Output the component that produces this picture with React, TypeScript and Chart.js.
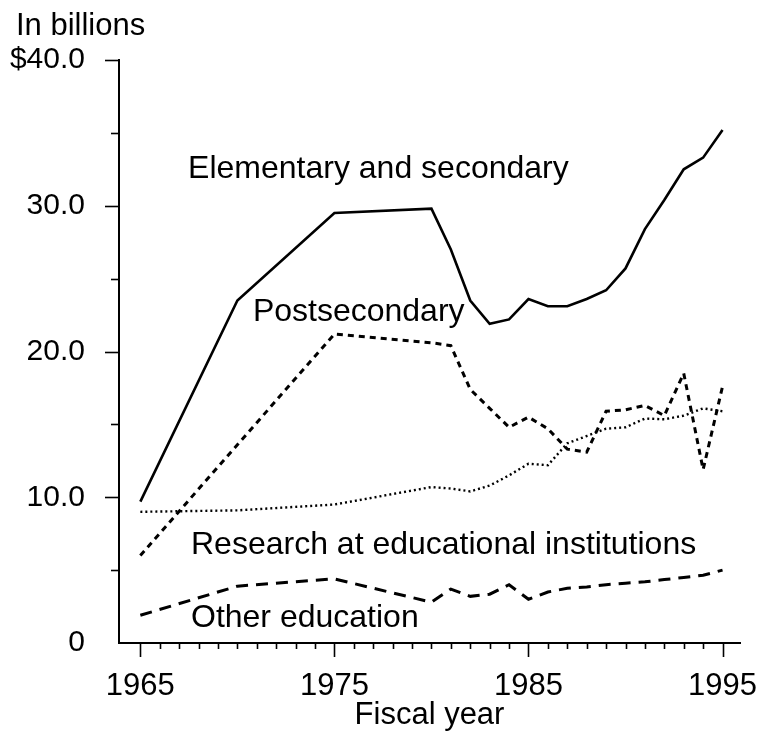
import React, { useEffect, useRef } from "react";
import { Chart, registerables } from "chart.js";

Chart.register(...registerables);

const FONT = "'Liberation Sans', Arial, Helvetica, sans-serif";

// ---- data (billions of dollars, fiscal years) ----
const years = [1965, 1970, 1975, 1980, 1981, 1982, 1983, 1984, 1985, 1986, 1987, 1988, 1989, 1990, 1991, 1992, 1993, 1994, 1995];
const elementaryAndSecondary = [9.7, 23.5, 29.5, 29.8, 27.0, 23.5, 21.9, 22.2, 23.6, 23.1, 23.1, 23.6, 24.2, 25.7, 28.4, 30.4, 32.5, 33.3, 35.2];
const postsecondary = [6.0, 13.6, 21.2, 20.6, 20.4, 17.4, 16.1, 14.8, 15.5, 14.7, 13.3, 13.1, 15.9, 16.0, 16.3, 15.6, 18.5, 11.9, 17.6];
const research = [9.0, 9.1, 9.5, 10.7, 10.6, 10.4, 10.8, 11.5, 12.3, 12.2, 13.7, 14.2, 14.7, 14.8, 15.4, 15.35, 15.6, 16.1, 15.9];
const otherEducation = [1.9, 3.9, 4.4, 2.8, 3.7, 3.2, 3.35, 4.0, 3.0, 3.5, 3.75, 3.85, 4.0, 4.1, 4.2, 4.35, 4.5, 4.65, 5.0];

// ---- ticks ----
const xMajorTicks = [1965, 1975, 1985, 1995];
const yMajorTicks = [0, 10, 20, 30, 40];
const yTickLabels = ["0", "10.0", "20.0", "30.0", "$40.0"];
const yMinorTicks = [0, 5, 10, 15, 20, 25, 30, 35, 40];
const xAllTicks: number[] = [];
for (let yr = 1965; yr <= 1995; yr++) xAllTicks.push(yr);

const seriesNames = ["Elementary and secondary", "Postsecondary", "Research at educational institutions", "Other education"];

const toPoints = (vals: number[]) => years.map((yr, i) => ({ x: yr, y: vals[i] }));

const tickMarksPlugin = {
  id: "tickMarks",
  afterDraw(chart: any) {
    const { ctx, chartArea, scales } = chart;
    const xs = scales.x;
    const ys = scales.y;
    ctx.save();
    ctx.strokeStyle = "#000";
    ctx.lineWidth = 1.6;
    xs.ticks.forEach((t: any) => {
      const px = Math.round(xs.getPixelForValue(t.value)) + 0.5;
      const len = xMajorTicks.includes(t.value) ? 14 : 6;
      ctx.beginPath();
      ctx.moveTo(px, chartArea.bottom);
      ctx.lineTo(px, chartArea.bottom + len);
      ctx.stroke();
    });
    ys.ticks.forEach((t: any) => {
      if (t.value === 0) return;
      const py = Math.round(ys.getPixelForValue(t.value)) + 0.5;
      const len = yMajorTicks.includes(t.value) ? 14 : 8;
      ctx.beginPath();
      ctx.moveTo(chartArea.left, py);
      ctx.lineTo(chartArea.left - len, py);
      ctx.stroke();
    });
    ctx.restore();
  },
};

// label anchors in data units (left edge / baseline)
const labelAnchors = [
  { x: 1967.46, y: 31.9 },
  { x: 1970.8, y: 22.09 },
  { x: 1967.61, y: 6.11 },
  { x: 1967.61, y: 1.1 },
];

const textPlugin = {
  id: "seriesText",
  afterDraw(chart: any) {
    const { ctx, scales } = chart;
    ctx.save();
    ctx.fillStyle = "#000";
    ctx.font = `32px ${FONT}`;
    ctx.textAlign = "left";
    ctx.textBaseline = "alphabetic";
    chart.data.datasets.forEach((ds: any, i: number) => {
      const a = labelAnchors[i];
      ctx.fillText(ds.label, scales.x.getPixelForValue(a.x), scales.y.getPixelForValue(a.y));
    });
    ctx.font = `31px ${FONT}`;
    ctx.fillText("In billions", 16, 35);
    ctx.restore();
  },
};

export default function App() {
  const ref = useRef<HTMLCanvasElement>(null);

  useEffect(() => {
    if (!ref.current) return;
    const common = { borderColor: "#000", pointRadius: 0, fill: false, tension: 0 };
    const chart = new Chart(ref.current, {
      type: "line",
      data: {
        datasets: [
          { ...common, label: seriesNames[0], data: toPoints(elementaryAndSecondary), borderWidth: 2.6 },
          { ...common, label: seriesNames[1], data: toPoints(postsecondary), borderWidth: 3, borderDash: [6, 5] },
          { ...common, label: seriesNames[2], data: toPoints(research), borderWidth: 2.4, borderDash: [2, 3] },
          { ...common, label: seriesNames[3], data: toPoints(otherEducation), borderWidth: 3, borderDash: [12, 8] },
        ],
      },
      options: {
        animation: false,
        responsive: false,
        maintainAspectRatio: false,
        devicePixelRatio: 1,
        layout: { padding: { top: 60, right: 17, left: 0, bottom: 0 } },
        plugins: { legend: { display: false }, tooltip: { enabled: false }, title: { display: false } },
        scales: {
          x: {
            type: "linear",
            min: 1963.9,
            max: 1995.9,
            afterBuildTicks: (s: any) => {
              s.ticks = xAllTicks.map((v) => ({ value: v }));
            },
            afterFit: (s: any) => {
              s.height = 91;
              s.paddingLeft = 0;
              s.paddingRight = 0;
            },
            ticks: {
              autoSkip: false,
              maxRotation: 0,
              minRotation: 0,
              padding: 25,
              color: "#000",
              font: { size: 31, family: FONT },
              callback: (v: any) => (xMajorTicks.includes(Number(v)) ? String(v) : ""),
            },
            grid: { display: false, drawTicks: false, drawOnChartArea: false },
            border: { display: true, color: "#000", width: 2 },
            title: {
              display: true,
              text: "Fiscal year",
              color: "#000",
              font: { size: 31, family: FONT },
              padding: { top: 0, bottom: 0 },
            },
          },
          y: {
            type: "linear",
            min: 0,
            max: 40,
            afterBuildTicks: (s: any) => {
              s.ticks = yMinorTicks.map((v) => ({ value: v }));
            },
            afterFit: (s: any) => {
              s.width = 119;
              s.paddingTop = 0;
              s.paddingBottom = 0;
            },
            ticks: {
              autoSkip: false,
              padding: 34,
              color: "#000",
              font: { size: 30, family: FONT },
              callback: (v: any) => {
                const i = yMajorTicks.indexOf(Number(v));
                return i >= 0 ? yTickLabels[i] : "";
              },
            },
            grid: { display: false, drawTicks: false, drawOnChartArea: false },
            border: { display: true, color: "#000", width: 2 },
          },
        },
      },
      plugins: [tickMarksPlugin, textPlugin],
    } as any);
    return () => chart.destroy();
  }, []);

  return (
    <div style={{ position: "absolute", left: 0, top: 0, width: 757, height: 734, background: "#fff" }}>
      <canvas ref={ref} width={757} height={734} style={{ display: "block", width: 757, height: 734 }} />
    </div>
  );
}
